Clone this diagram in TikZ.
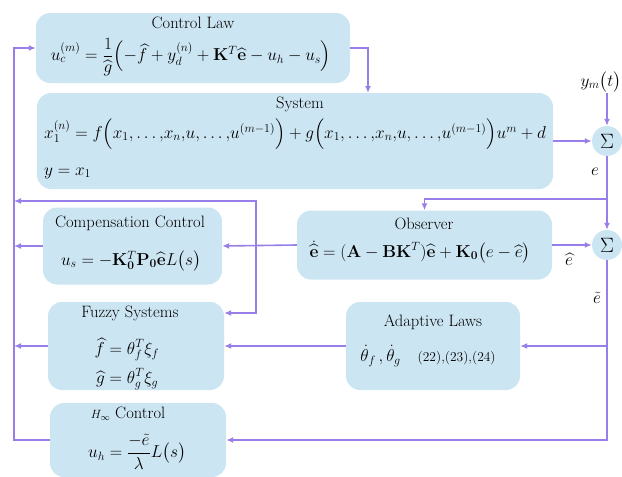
\documentclass[tikz,border=0pt]{standalone}
\usepackage{amsmath,amssymb}
\usetikzlibrary{arrows.meta,calc}
\definecolor{boxfill}{RGB}{204,229,242}
\definecolor{linecol}{RGB}{152,126,232}
\tikzset{
 blk/.style={draw=none, fill=boxfill, rounded corners=14pt, inner sep=0pt},
 sumnode/.style={circle, fill=boxfill, minimum size=30pt, inner sep=0pt, font=\fontsize{20}{24}\selectfont},
 ttl/.style={inner sep=0pt, font=\fontsize{16.5}{19}\selectfont},
 eqn/.style={inner sep=0pt, font=\fontsize{17}{20}\selectfont},
 lbl/.style={inner sep=0pt, font=\fontsize{17}{20}\selectfont},
 conn/.style={draw=linecol, line width=1.6pt},
 arr/.style={conn, -{Latex[length=7pt,width=6pt]}},
 arrboth/.style={conn, {Latex[length=7pt,width=6pt]}-{Latex[length=7pt,width=6pt]}},
}
\newcommand{\tc}{{,}}
\begin{document}
\begin{tikzpicture}[x=1pt,y=-1pt]
\useasboundingbox (0,0) rectangle (622,477);
% boxes
\node[blk, minimum width=314pt, minimum height=70pt] (CL) at (193,48) {};
\node[blk, minimum width=516pt, minimum height=96pt] (SYS) at (295,141) {};
\node[blk, minimum width=255pt, minimum height=69pt] (OBS) at (424.5,245) {};
\node[blk, minimum width=179pt, minimum height=77pt] (COMP) at (132.5,246) {};
\node[blk, minimum width=176pt, minimum height=88pt] (FUZ) at (136,346) {};
\node[blk, minimum width=174pt, minimum height=88pt] (ADP) at (433,346) {};
\node[blk, minimum width=176pt, minimum height=74pt] (HINF) at (138,440) {};
\node[sumnode] (S1) at (607,141) {$\Sigma$};
\node[sumnode] (S2) at (607,245) {$\Sigma$};
% texts
\node[ttl] (CLt) at (193,23) {Control Law};
\node[eqn] (CLe) at (191,57) {$u_c^{(m)} = \dfrac{1}{\widehat{g}}\Bigl(-\widehat{f} + y_d^{(n)} + \mathbf{K}^T\widehat{\mathbf{e}} - u_h - u_s\Bigr)$};
\node[ttl] (SYSt) at (300,104) {System};
\node[eqn, anchor=west] (SYSe) at (44,134) {$x_1^{(n)} = f\Bigl(x_1\tc\ldots\tc x_n\tc u\tc\ldots\tc u^{(m-1)}\Bigr) + g\Bigl(x_1\tc\ldots\tc x_n\tc u\tc\ldots\tc u^{(m-1)}\Bigr)u^m + d$};
\node[eqn, anchor=west] (SYSy) at (44,173) {$y = x_1$};
\node[ttl] (OBSt) at (424,224) {Observer};
\node[eqn] (OBSe) at (420,252) {$\dot{\widehat{\mathbf{e}}} = (\mathbf{A}-\mathbf{B}\mathbf{K}^T)\widehat{\mathbf{e}} + \mathbf{K}_{\mathbf{0}}\bigl(e-\widehat{e}\bigr)$};
\node[ttl] (COMPt) at (130,223) {Compensation Control};
\node[eqn] (COMPe) at (131,261) {$u_s = -\mathbf{K}_{\mathbf 0}^T\mathbf{P}_{\mathbf 0}\widehat{\mathbf e}L\bigl(s\bigr)$};
\node[ttl] (FUZt) at (130,313) {Fuzzy Systems};
\node[eqn] (FUZe) at (127,364) {$\begin{aligned}\widehat{f} &= \theta_f^T\xi_f\\[3pt] \widehat{g} &= \theta_g^T\xi_g\end{aligned}$};
\node[ttl] (ADPt) at (433,322) {Adaptive Laws};
\node[eqn] (ADPe) at (428,356) {$\dot\theta_f\,,\dot\theta_g$\quad{\fontsize{13.5}{15}\selectfont (22),(23),(24)}};
\node[ttl] (HINFt) at (128,414) {{\fontsize{13}{15}\selectfont$H_\infty$} Control};
\node[eqn] (HINFe) at (137,452) {$u_h = \dfrac{-\tilde e}{\lambda}L\bigl(s\bigr)$};
\node[lbl] (ym) at (601,82) {$y_m\bigl(t\bigr)$};
\node[lbl] (le) at (595,172) {$e$};
\node[lbl] (lhe) at (569,259) {$\widehat{e}$};
\node[lbl] (lte) at (597,298) {$\tilde e$};
% coordinates
\coordinate (c1) at (368,93);
\coordinate (ymb) at (607,93);
\coordinate (br) at (607,199);
\coordinate (lx) at (14,440);
\coordinate (t1) at (14,201);
\coordinate (t2) at (256,201);
\coordinate (t3) at (256,313);
\coordinate (rb) at (607,440);
% connectors
\draw[arr] (CL.east) -| (c1);
\draw[arr] (ymb) -- (S1.north);
\draw[arr] (SYS.east) -- (S1.west);
\draw[arr] (S1.south) -- (S2.north);
\draw[arr] (br) -| (OBS.north);
\draw[arr] (OBS.east) -- (S2.west);
\draw[arr] (OBS.west) -- (COMP.east);
\draw[arr] (COMP.west) -- (COMP.west -| lx);
\draw[arr] (FUZ.west) -- (FUZ.west -| lx);
\draw[arrboth] (t1) -- (t2) -- (t3) -- (t3 -| FUZ.east);
\draw[arr] (ADP.west) -- (FUZ.east);
\draw[arr] (S2.south) -- (rb) -- (HINF.east);
\draw[arr] (S2.south |- ADP.east) -- (ADP.east);
\draw[arr] (HINF.west) -- (lx) |- (CL.west);
\end{tikzpicture}
\end{document}
